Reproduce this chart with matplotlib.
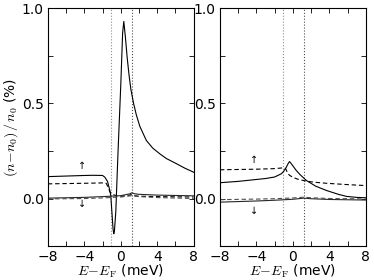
import numpy as np
import matplotlib
matplotlib.use('Agg')
import matplotlib.pyplot as plt
from matplotlib.ticker import MultipleLocator

plt.rcParams['mathtext.fontset'] = 'cm'
plt.rcParams['font.family'] = 'DejaVu Sans'

# left panel, spin up
left_up_solid_e = [-8, -6, -4, -3, -2, -1.75, -1.46, -1.2, -1.1, -0.95, -0.85, -0.77, -0.7,
                   -0.55, -0.3, 0.0, 0.2, 0.33, 0.5, 0.7, 0.9, 1.1, 1.4, 1.7, 2.08, 2.8, 3.5,
                   4.27, 5.0, 6.1, 7.0, 8.0]
left_up_solid_v = [0.115, 0.118, 0.121, 0.122, 0.121, 0.112, 0.09, 0.042, 0.015, -0.09, -0.16, -0.185, -0.17,
                   -0.07, 0.25, 0.60, 0.87, 0.93, 0.85, 0.74, 0.65, 0.575, 0.50, 0.44, 0.38, 0.305, 0.265,
                   0.235, 0.21, 0.183, 0.16, 0.138]
left_up_dash_e = [-8, -4, -2, -1.6, -1.4, -1.2, -1.0, -0.8, -0.5, 0, 0.5, 1.0, 1.2, 1.5, 2, 4, 6, 8]
left_up_dash_v = [0.077, 0.08, 0.082, 0.08, 0.06, 0.035, 0.025, 0.02, 0.015, 0.012, 0.014, 0.018,
                  0.022, 0.015, 0.012, 0.01, 0.009, 0.008]
# left panel, spin down
left_dn_solid_e = [-8, -4, -2, 0, 1.0, 1.2, 1.5, 2, 4, 8]
left_dn_solid_v = [0.002, 0.006, 0.01, 0.015, 0.025, 0.03, 0.025, 0.022, 0.018, 0.014]
left_dn_dash_e = [-8, -4, -2, 0, 1.2, 2, 4, 8]
left_dn_dash_v = [-0.002, 0.0, 0.003, 0.008, 0.015, 0.01, 0.005, 0.0]

# right panel, spin up
right_up_solid_e = [-8, -6, -4, -3, -2, -1.26, -1.0, -0.71, -0.5, -0.37, -0.2, 0.0, 0.38, 0.8,
                    1.48, 2.5, 3.7, 5.0, 5.9, 7.0, 8.0]
right_up_solid_v = [0.083, 0.09, 0.1, 0.105, 0.113, 0.13, 0.143, 0.165, 0.185, 0.194, 0.185, 0.172,
                    0.147, 0.125, 0.095, 0.065, 0.042, 0.022, 0.011, 0.006, 0.004]
right_up_dash_e = [-8, -4, -2, -1.1, -0.8, -0.54, -0.3, 0, 0.5, 1.48, 2.5, 3.7, 6, 8]
right_up_dash_v = [0.151, 0.154, 0.157, 0.161, 0.158, 0.13, 0.12, 0.112, 0.102, 0.091, 0.085,
                   0.08, 0.073, 0.068]
# right panel, spin down
right_dn_solid_e = [-8, -4, -2, 0, 1.2, 2, 4, 8]
right_dn_solid_v = [-0.019, -0.013, -0.009, -0.004, 0.002, -0.001, -0.005, -0.008]
right_dn_dash_e = [-8, -4, -2, 0, 1.2, 2, 4, 8]
right_dn_dash_v = [-0.006, -0.003, -0.001, 0.003, 0.007, 0.004, 0.0, -0.002]

gap_edges = [-1.12, 1.22]
xticks = [-8, -4, 0, 4, 8]
yticks = [0.0, 0.5, 1.0]


def style_axes(ax):
    ax.set_xlim(-8, 8)
    ax.set_ylim(-0.25, 1.0)
    ax.set_xticks(xticks)
    ax.set_yticks(yticks)
    ax.xaxis.set_minor_locator(MultipleLocator(2))
    ax.yaxis.set_minor_locator(MultipleLocator(0.25))
    ax.tick_params(which='both', direction='in', top=True, right=True,
                   length=3.5, width=0.6, labelsize=10, pad=3)
    for s in ax.spines.values():
        s.set_linewidth(0.8)
    ax.set_xlabel(r'$E\!-\!E_\mathrm{F}$ (meV)', fontsize=10, labelpad=-1)


def draw_panel(ax, up_s, up_d, dn_s, dn_d, up_arrow_y, dn_arrow_y):
    ax.axvline(gap_edges[0], color='0.55', ls=':', lw=0.8)
    ax.axvline(gap_edges[1], color='0.3', ls=':', lw=0.8)
    ax.plot(*up_s, color='k', lw=0.8)
    ax.plot(*up_d, color='k', lw=0.8, ls='--', dashes=(4, 2.5))
    ax.plot(*dn_s, color='0.15', lw=0.8)
    ax.plot(*dn_d, color='0.3', lw=0.8, ls='--', dashes=(4, 2.5))
    ax.text(-4.25, up_arrow_y, '\u2191', ha='center', va='center', fontsize=7)
    ax.text(-4.25, dn_arrow_y, '\u2193', ha='center', va='center', fontsize=7)
    style_axes(ax)


fig = plt.figure(figsize=(3.74, 2.8), dpi=100)
ax1 = fig.add_axes([0.128, 0.121, 0.390, 0.850])
ax2 = fig.add_axes([0.588, 0.121, 0.390, 0.850])

draw_panel(ax1, (left_up_solid_e, left_up_solid_v), (left_up_dash_e, left_up_dash_v),
           (left_dn_solid_e, left_dn_solid_v), (left_dn_dash_e, left_dn_dash_v), 0.17, -0.03)
draw_panel(ax2, (right_up_solid_e, right_up_solid_v), (right_up_dash_e, right_up_dash_v),
           (right_dn_solid_e, right_dn_solid_v), (right_dn_dash_e, right_dn_dash_v), 0.2, -0.063)

ax1.set_ylabel(r'$(n\!-\!n_0)\,/\,n_0$ (%)', fontsize=10, labelpad=1)

fig.savefig('out.png', dpi=100)
